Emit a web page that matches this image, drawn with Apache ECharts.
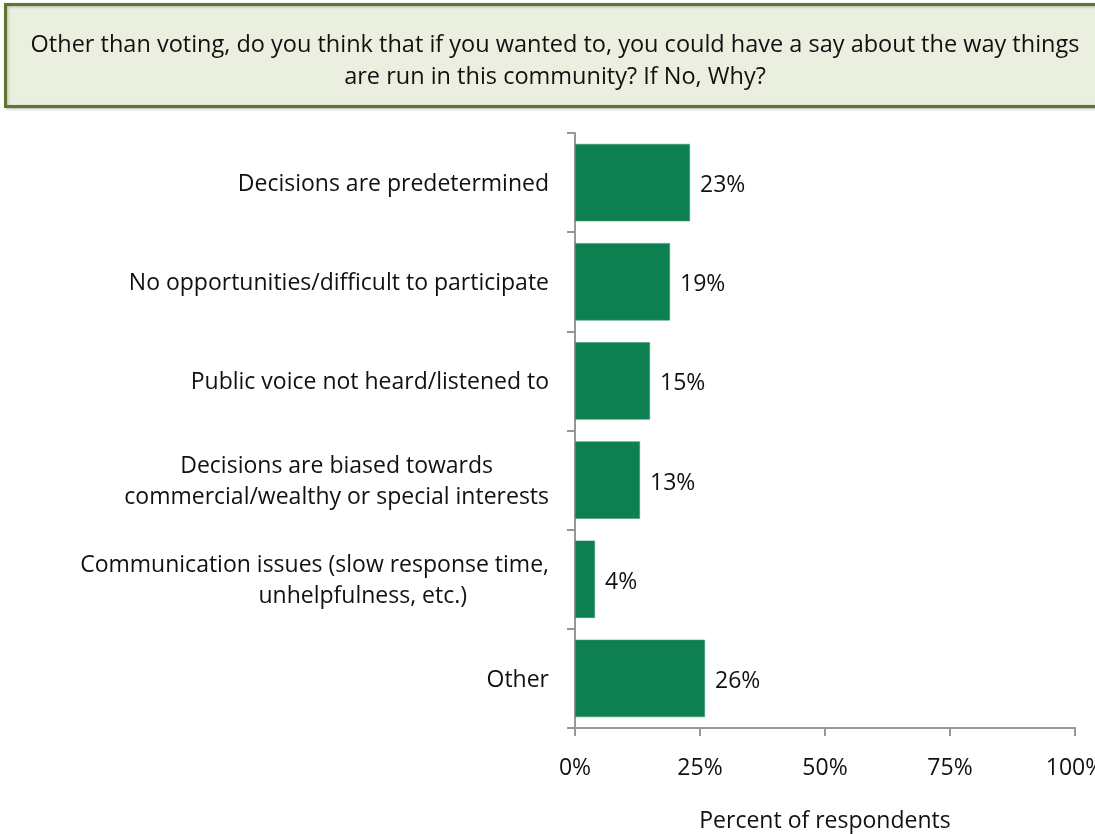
<!DOCTYPE html>
<html>
<head>
<meta charset="utf-8">
<title>Having a say in the community</title>
<script src="https://cdn.jsdelivr.net/npm/echarts@6/dist/echarts.min.js"></script>
<style>
  html, body { margin: 0; padding: 0; background: #ffffff; overflow: hidden; }
  #chart { width: 1095px; height: 834px; }
</style>
</head>
<body>
<div id="chart"></div>
<script>
// Reasons given by respondents who answered "No"
const categories = [
  'Decisions are predetermined',
  'No opportunities/difficult to participate',
  'Public voice not heard/listened to',
  'Decisions are biased towards\ncommercial/wealthy or special interests',
  'Communication issues (slow response time,\nunhelpfulness, etc.)',
  'Other'
];
const values = [23, 19, 15, 13, 4, 26];
const xTickValues = [0, 25, 50, 75, 100];

const questionText = 'Other than voting, do you think that if you wanted to, you could have a say about the way things\nare run in this community? If No, Why?';
const axisTitle = 'Percent of respondents';

const FONT = '"Open Sans", "DejaVu Sans", sans-serif';
const FONT_SIZE = 23;
const TITLE_SIZE = 23.5;
const BAR_COLOR = '#0e7f51';
const AXIS_COLOR = '#979797';

// Measure text so the lines of a wrapped label can be centred on each other
const measureCtx = document.createElement('canvas').getContext('2d');
measureCtx.font = FONT_SIZE + 'px ' + FONT;
const textW = s => measureCtx.measureText(s).width;

// Build one rich style per line of each wrapped label
const rich = {};
const labelMarkup = {};
categories.forEach((cat, i) => {
  const lines = cat.split('\n');
  if (lines.length === 1) { labelMarkup[cat] = cat; return; }
  const widths = lines.map(textW);
  const maxW = Math.max.apply(null, widths);
  labelMarkup[cat] = lines.map((ln, j) => {
    const key = 'c' + i + 'l' + j;
    let pad = (maxW - widths[j]) / 2;
    // the second line of the communication label sits a little right of centre
    if (i === 4 && j === 1) pad -= 49 * widths[0] / 477;
    rich[key] = {
      fontFamily: FONT, fontSize: FONT_SIZE, color: '#111',
      lineHeight: 31, padding: [0, Math.max(0, pad), 0, 0]
    };
    return '{' + key + '|' + ln + '}';
  }).join('\n');
});

const chart = echarts.init(document.getElementById('chart'), null, { renderer: 'canvas' });

chart.setOption({
  backgroundColor: '#ffffff',
  animation: false,
  graphic: [{
    type: 'rect',
    z: 0,
    shape: { x: 5.5, y: 4.5, width: 1100, height: 102 },
    style: { fill: '#ebefdf', stroke: '#5f7632', lineWidth: 3,
             shadowBlur: 3, shadowColor: 'rgba(0,0,0,0.25)', shadowOffsetX: 1, shadowOffsetY: 1 }
  }],
  title: {
    text: questionText,
    left: 550,
    top: 24,
    textAlign: 'center',
    textStyle: {
      fontFamily: FONT, fontSize: TITLE_SIZE, fontWeight: 'normal',
      color: '#111', lineHeight: 32
    },
    z: 5
  },
  grid: { left: 575, right: 20, top: 133, bottom: 106, containLabel: false, outerBoundsMode: 'none' },
  xAxis: {
    type: 'value',
    min: xTickValues[0],
    max: xTickValues[xTickValues.length - 1],
    interval: xTickValues[1] - xTickValues[0],
    name: axisTitle,
    nameLocation: 'middle',
    nameGap: 82,
    nameTextStyle: { fontFamily: FONT, fontSize: FONT_SIZE, color: '#111' },
    axisLine: { show: true, lineStyle: { color: AXIS_COLOR, width: 2 } },
    axisTick: { show: true, length: 8, inside: false, lineStyle: { color: AXIS_COLOR, width: 2 } },
    axisLabel: { margin: 29, fontFamily: FONT, fontSize: FONT_SIZE, color: '#111',
                 formatter: '{value}%', hideOverlap: false },
    splitLine: { show: false }
  },
  yAxis: {
    type: 'category',
    data: categories,
    inverse: true,
    axisLine: { show: true, lineStyle: { color: AXIS_COLOR, width: 2 } },
    axisTick: { show: true, length: 8, inside: false, alignWithLabel: false,
                lineStyle: { color: AXIS_COLOR, width: 2 } },
    axisLabel: {
      margin: 26, fontFamily: FONT, fontSize: FONT_SIZE, color: '#111',
      align: 'right', lineHeight: 31, padding: [4, 0, 0, 0],
      formatter: v => labelMarkup[v],
      rich: rich
    },
    splitLine: { show: false }
  },
  series: [{
    type: 'bar',
    data: values,
    barCategoryGap: '22%',
    itemStyle: { color: BAR_COLOR, borderColor: '#3d9a70', borderWidth: 0.6 },
    label: {
      show: true, position: 'right', distance: 10, offset: [0, 3],
      fontFamily: FONT, fontSize: FONT_SIZE, color: '#111',
      formatter: p => p.value + '%'
    }
  }]
});
</script>
</body>
</html>
